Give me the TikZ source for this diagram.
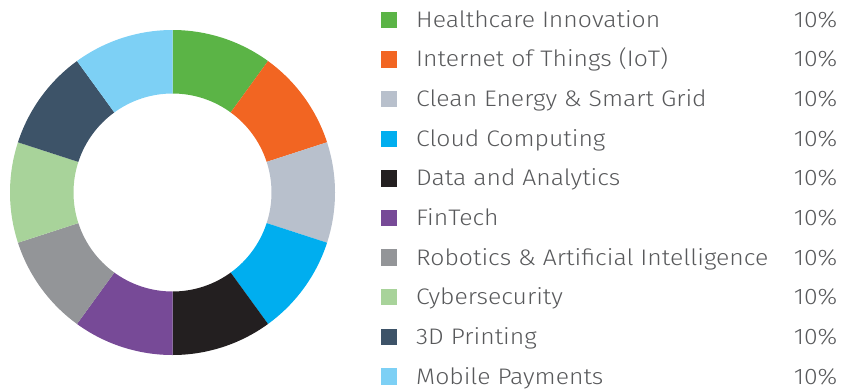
\documentclass[tikz,border=0pt]{standalone}
\usepackage{fontspec}
\setmainfont{Fira Sans Light}[FakeStretch=1.1]
\usepackage{tikz}
\usetikzlibrary{positioning}

\definecolor{cHealth}{HTML}{5BB446}
\definecolor{cIoT}{HTML}{F26522}
\definecolor{cEnergy}{HTML}{B8C0CC}
\definecolor{cCloud}{HTML}{00AEEF}
\definecolor{cData}{HTML}{231F20}
\definecolor{cFin}{HTML}{774A97}
\definecolor{cRobot}{HTML}{939598}
\definecolor{cCyber}{HTML}{A8D39A}
\definecolor{cPrint}{HTML}{3D5368}
\definecolor{cMobile}{HTML}{7DD0F5}
\definecolor{txt}{HTML}{58595B}

\tikzset{
	keybox/.style={fill=#1, minimum size=16.5pt, inner sep=0pt},
	keytext/.style={text=txt, font=\fontsize{22.5}{26}\selectfont, inner sep=0pt},
}

\begin{document}
\begin{tikzpicture}[x=1pt, y=-1pt]
	\useasboundingbox (0,0) rectangle (843,391);
	\coordinate (c) at (172.5,192.5);
	% ring
	\foreach \col [count=\i from 0] in {cHealth,cIoT,cEnergy,cCloud,cData,cFin,cRobot,cCyber,cPrint,cMobile} {
		\pgfmathsetmacro{\s}{-90+36*\i}
		\pgfmathsetmacro{\e}{-54+36*\i}
		\fill [\col] ([shift={(\s:162.5)}]c) arc [start angle=\s, end angle=\e, radius=162.5]
			-- ([shift={(\e:99)}]c) arc [start angle=\e, end angle=\s, radius=99] -- cycle;
	}
	% legend
	\foreach \col/\name [count=\i from 0] in {cHealth/Healthcare Innovation, cIoT/Internet of Things (IoT), cEnergy/Clean Energy \& Smart Grid, cCloud/Cloud Computing, cData/Data and Analytics, cFin/FinTech, cRobot/Robotics \& Artificial Intelligence, cCyber/Cybersecurity, cPrint/3D Printing, cMobile/Mobile Payments} {
		\node [keybox=\col] (sq\i) at (388.8,20+39.6*\i) {};
		\node [keytext, anchor=base west] (lab\i) at (416,27.3+39.67*\i) {\name};
		\node [keytext, anchor=base east] (pct\i) at (837.5,27.3+39.67*\i) {10\%};
	}
\end{tikzpicture}
\end{document}
